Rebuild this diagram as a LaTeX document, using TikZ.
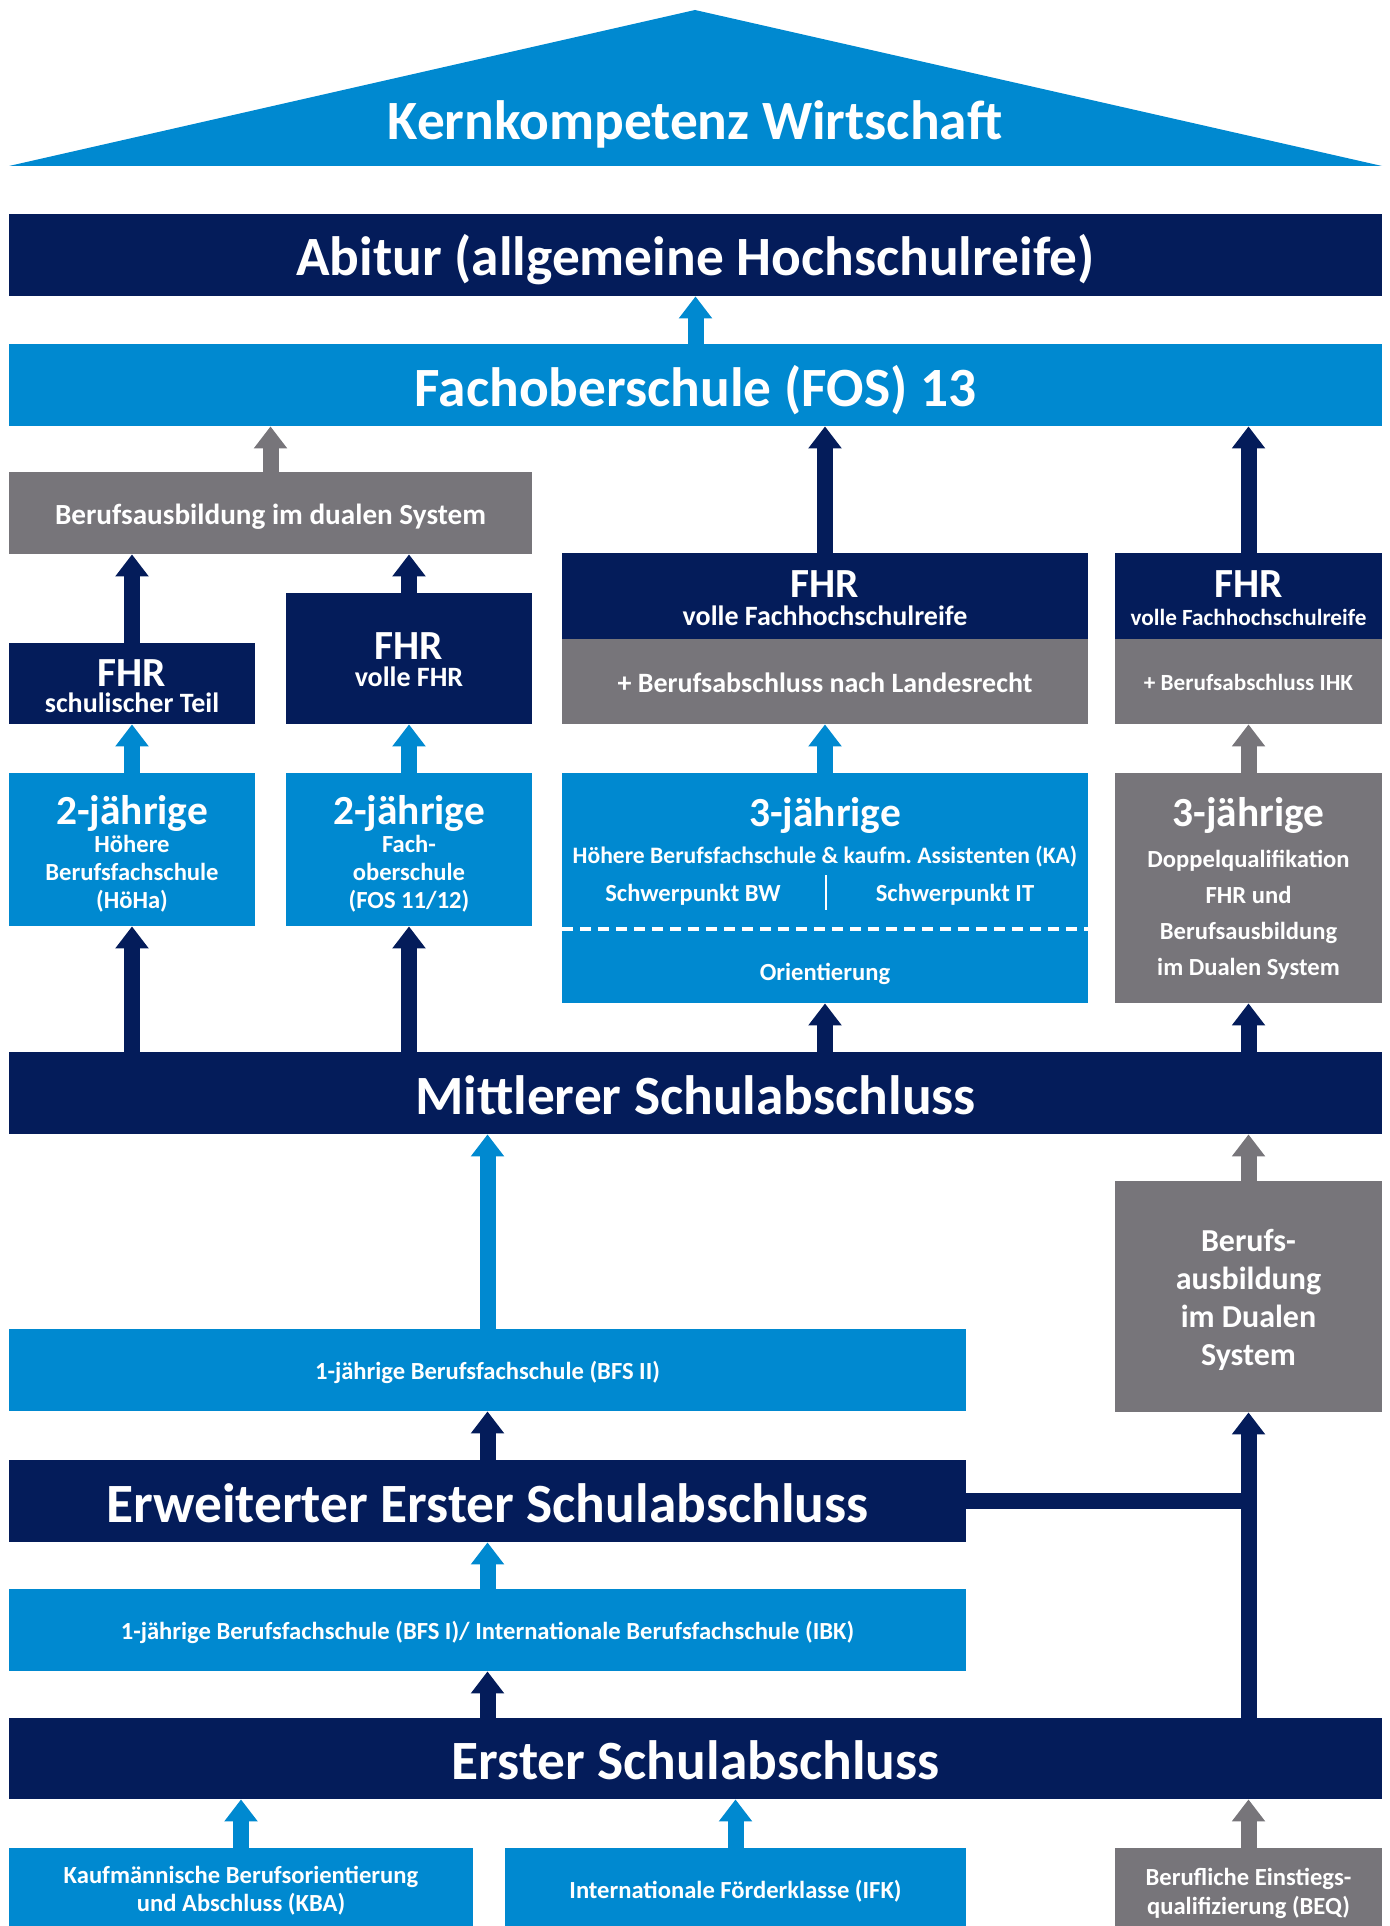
\documentclass[tikz,border=0pt]{standalone}
\usepackage{fontspec}
\setmainfont{Carlito}
\usetikzlibrary{arrows.meta}

\definecolor{navy}{RGB}{4,28,90}
\definecolor{sky}{RGB}{0,137,208}
\definecolor{slate}{RGB}{119,117,122}

\newcommand{\bigsize}{\fontsize{27.7}{30}\selectfont}
\newcommand{\midsize}{\fontsize{20.7}{24}\selectfont}
\newcommand{\tightlines}{\lineskiplimit=-50pt\relax}

\tikzset{
  box/.style={rectangle, inner sep=0pt, text=white, align=center},
  navybox/.style={box, fill=navy},
  bluebox/.style={box, fill=sky},
  graybox/.style={box, fill=slate},
  bigtext/.style={font=\bfseries\bigsize, text height=21pt, text depth=0pt},
  subtext/.style={font=\bfseries\fontsize{14}{14}\selectfont\tightlines},
  smalltext/.style={font=\bfseries\fontsize{12.3}{14}\selectfont\tightlines},
  tinytext/.style={font=\bfseries\fontsize{11.6}{14}\selectfont\tightlines},
  oneline/.style={text height=9pt, text depth=0pt},
  subline/.style={text height=11.4pt, text depth=0pt},
  uparrow/.style={line width=8pt, -{Triangle[width=16pt,length=11pt]}}
}

\begin{document}
\begin{tikzpicture}[x=0.5pt, y=-0.5pt]
\useasboundingbox (0,0) rectangle (1390,1926);

% Roof
\fill[sky] (695,10) -- (1382,166) -- (9,166) -- cycle;
\node (roof) at (695,119) [box, bigtext] {Kernkompetenz Wirtschaft};

% Top bars
\node (abitur) at (695.5,255) [navybox, bigtext, minimum width=686.5pt, minimum height=41pt]
    {Abitur (allgemeine Hochschulreife)};
\node (fos) at (695.5,385) [bluebox, bigtext, minimum width=686.5pt, minimum height=41pt]
    {Fachoberschule (FOS) 13};

% FHR row
\node (dualtop) at (270.5,513) [graybox, font=\bfseries\fontsize{14.6}{14}\selectfont, subline,
    minimum width=261.5pt, minimum height=41pt]
    {Berufsausbildung im dualen System};
\node (fhrA) at (132,683.5) [navybox, subtext, text height=29.1pt, text depth=0pt,
    minimum width=123pt, minimum height=40.5pt]
    {{\midsize FHR}\\[-0.75pt]schulischer Teil};
\node (fhrB) at (409,658.5) [navybox, subtext, text height=28.4pt, text depth=0pt,
    minimum width=123pt, minimum height=65.5pt]
    {{\midsize FHR}\\[-0.2pt]volle FHR};
\node (fhrC) at (825,596) [navybox, subtext, text height=29.4pt, text depth=0pt,
    minimum width=263pt, minimum height=43pt]
    {{\midsize FHR}\\volle Fachhochschulreife};
\node (landC) at (825,681.5) [graybox, subtext, subline, minimum width=263pt, minimum height=42.5pt]
    {+ Berufsabschluss nach Landesrecht};
\node (fhrD) at (1248.5,596) [navybox, tinytext, text height=29.1pt, text depth=0pt,
    minimum width=133.5pt, minimum height=43pt]
    {{\midsize FHR}\\volle Fachhochschulreife};
\node (ihkD) at (1248.5,681.5) [graybox, tinytext, oneline, minimum width=133.5pt, minimum height=42.5pt]
    {+ Berufsabschluss IHK};

% School boxes
\node (jahrA) at (132,849.5) [bluebox, smalltext, text height=58.5pt, text depth=0pt,
    minimum width=123pt, minimum height=76.5pt]
    {{\midsize 2-jährige}\\Höhere\\Berufsfachschule\\(HöHa)};
\node (jahrB) at (409,849.5) [bluebox, smalltext, text height=58.5pt, text depth=0pt,
    minimum width=123pt, minimum height=76.5pt]
    {{\midsize 2-jährige}\\Fach-\\oberschule\\(FOS 11/12)};
\node (jahrC) at (825,888) [bluebox, minimum width=263pt, minimum height=115pt] {};
\node (jahrD) at (1248.5,888) [graybox, font=\bfseries\fontsize{12.3}{18}\selectfont\tightlines,
    minimum width=133.5pt, minimum height=115pt]
    {{\midsize 3-jährige}\\[2.5pt]Doppelqualifikation\\FHR und\\Berufsausbildung\\im Dualen System};

% Inside the 3-year box
\node (jahrCt) at (825,826) [anchor=base, text=white, font=\bfseries\midsize] {3-jährige};
\node (jahrCs) at (825,863.5) [anchor=base, text=white, font=\bfseries\fontsize{11.8}{14}\selectfont]
    {Höhere Berufsfachschule \& kaufm.\ Assistenten (KA)};
\node (bw) at (693,901) [anchor=base, text=white, smalltext] {Schwerpunkt BW};
\node (it) at (955,901) [anchor=base, text=white, smalltext] {Schwerpunkt IT};
\node (orient) at (825,980) [anchor=base, text=white, smalltext] {Orientierung};
\coordinate (sepT) at (826,875);
\coordinate (sepB) at (826,910);
\coordinate (dashL) at (562,929);
\coordinate (dashR) at (1088,929);
\draw[white, line width=1pt] (sepT) -- (sepB);
\draw[white, line width=2pt, dash pattern=on 5.5pt off 3.5pt] (dashL) -- (dashR);

% Middle bars
\node (mittlerer) at (695.5,1093) [navybox, bigtext, minimum width=686.5pt, minimum height=41pt]
    {Mittlerer Schulabschluss};
\node (bfs2) at (487.5,1370) [bluebox, smalltext, oneline, minimum width=478.5pt, minimum height=41pt]
    {1-jährige Berufsfachschule (BFS II)};
\node (dual) at (1248.5,1296.5) [graybox, font=\bfseries\fontsize{16}{19}\selectfont\tightlines,
    text height=69.3pt, text depth=0pt, minimum width=133.5pt, minimum height=115.5pt]
    {Berufs-\\ausbildung\\im Dualen\\System};
\node (erweitert) at (487.5,1501) [navybox, bigtext, minimum width=478.5pt, minimum height=41pt]
    {Erweiterter Erster Schulabschluss};
\node (bfs1) at (487.5,1630) [bluebox, smalltext, oneline, minimum width=478.5pt, minimum height=41pt]
    {1-jährige Berufsfachschule (BFS I)/ Internationale Berufsfachschule (IBK)};
\node (erster) at (695.5,1758.5) [navybox, bigtext, minimum width=686.5pt, minimum height=40.5pt]
    {Erster Schulabschluss};

% Bottom boxes
\node (kba) at (241,1887) [bluebox, smalltext, text height=24.5pt, text depth=0pt,
    minimum width=232pt, minimum height=39pt]
    {Kaufmännische Berufsorientierung\\und Abschluss (KBA)};
\node (ifk) at (735.5,1887) [bluebox, smalltext, text height=11pt, text depth=0pt,
    minimum width=230.5pt, minimum height=39pt]
    {Internationale Förderklasse (IFK)};
\node (beq) at (1248.5,1887) [graybox, smalltext, text height=27.9pt, text depth=0pt,
    minimum width=133.5pt, minimum height=39pt]
    {Berufliche Einstiegs-\\[0.75pt]qualifizierung (BEQ)};

% Arrows
\draw [uparrow, sky] (fos) -- (abitur);
\draw [uparrow, slate] (dualtop.north) -- (dualtop.north |- fos.south);
\draw [uparrow, navy] (fhrC.north) -- (fhrC.north |- fos.south);
\draw [uparrow, navy] (fhrD.north) -- (fhrD.north |- fos.south);
\draw [uparrow, navy] (fhrA.north) -- (fhrA.north |- dualtop.south);
\draw [uparrow, navy] (fhrB.north) -- (fhrB.north |- dualtop.south);

\draw [uparrow, sky] (jahrA.north) -- (fhrA.south);
\draw [uparrow, sky] (jahrB.north) -- (fhrB.south);
\draw [uparrow, sky] (jahrC.north) -- (landC.south);
\draw [uparrow, slate] (jahrD.north) -- (ihkD.south);

\draw [uparrow, navy] (jahrA.south |- mittlerer.north) -- (jahrA.south);
\draw [uparrow, navy] (jahrB.south |- mittlerer.north) -- (jahrB.south);
\draw [uparrow, navy] (jahrC.south |- mittlerer.north) -- (jahrC.south);
\draw [uparrow, navy] (jahrD.south |- mittlerer.north) -- (jahrD.south);

\draw [uparrow, sky] (bfs2.north) -- (bfs2.north |- mittlerer.south);
\draw [uparrow, slate] (dual.north) -- (dual.north |- mittlerer.south);
\draw [uparrow, navy] (erweitert.north) -- (bfs2.south);
\draw [uparrow, sky] (bfs1.north) -- (erweitert.south);
\draw [uparrow, navy] (bfs1.north |- erster.north) -- (bfs1.south);

\draw [navy, line width=8pt] (erweitert.east) -- (erweitert.east -| dual.south);
\draw [uparrow, navy] (erster.north -| dual.south) -- (dual.south);

\draw [uparrow, sky] (kba.north) -- (kba.north |- erster.south);
\draw [uparrow, sky] (ifk.north) -- (ifk.north |- erster.south);
\draw [uparrow, slate] (beq.north) -- (beq.north |- erster.south);

\end{tikzpicture}
\end{document}
